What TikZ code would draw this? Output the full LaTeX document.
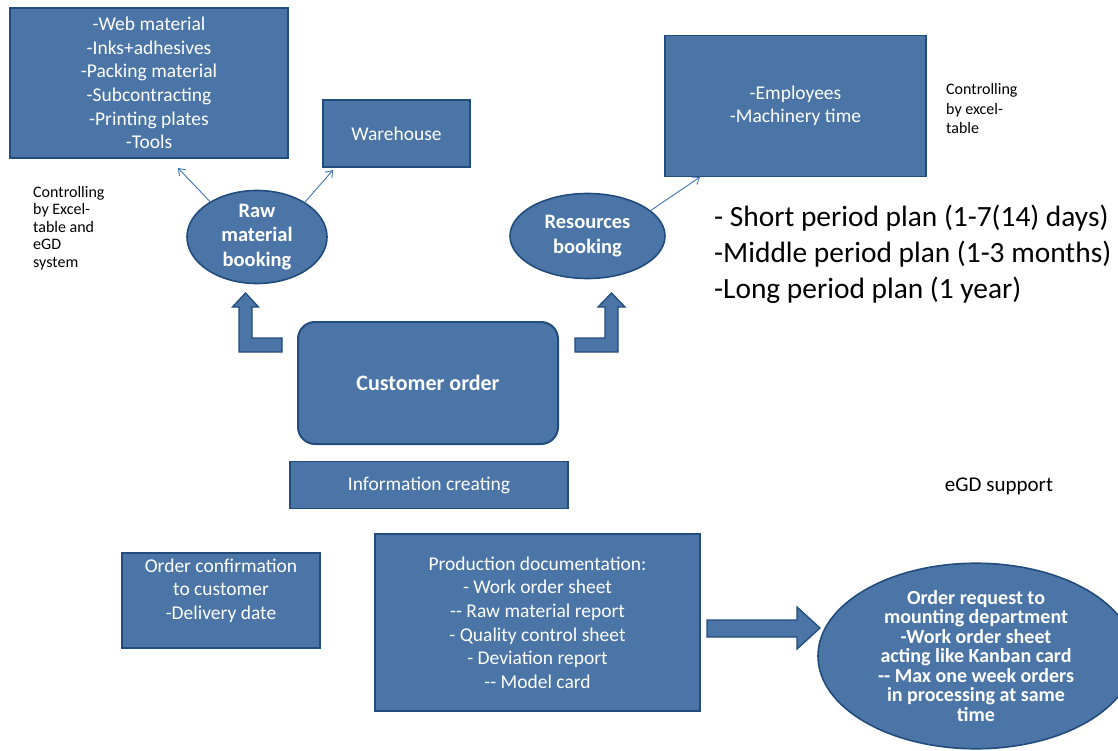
\documentclass[tikz,border=0pt]{standalone}
\usepackage{fontspec}
\setmainfont{Carlito}
\usetikzlibrary{shapes.geometric,arrows.meta}

\definecolor{boxfill}{RGB}{74,117,166}
\definecolor{boxedge}{RGB}{34,76,124}
\definecolor{linkblue}{RGB}{66,116,178}

% two plain hyphens, kept apart from the en-dash ligature
\newcommand{\twohyph}{-\kern0pt-}

\tikzset{
  panel/.style={draw=boxedge, line width=1.6pt, fill=boxfill, text=white,
                align=center, inner sep=0pt},
  bubble/.style={panel, ellipse},
  plainfont/.style={font=\fontsize{19.5}{23.6}\selectfont},
  boldfont/.style={font=\bfseries\fontsize{20.5}{24.5}\selectfont},
  note/.style={text=black, align=left, inner sep=0pt,
               font=\fontsize{16}{17.6}\selectfont},
  link/.style={draw=linkblue, line width=0.9pt,
               -{Straight Barb[length=6pt,width=9pt]}},
  blockarrow/.style={fill=boxfill, draw=boxedge, line width=1.3pt,
                     line join=miter}
}

\begin{document}
\begin{tikzpicture}[x=1pt, y=-1pt]
\useasboundingbox (0,0) rectangle (1118,751);
\clip (0,0) rectangle (1118,751);

% ---- material side -------------------------------------------------
\node[panel, plainfont, minimum width=278, minimum height=150] (mat)
  at (149,83) {-Web material\\-Inks+adhesives\\-Packing material\\
               -Subcontracting\\-Printing plates\\-Tools};
\node[panel, plainfont, minimum width=147, minimum height=67] (wh)
  at (396.5,133.5) {Warehouse};
\node[bubble, boldfont, minimum width=140, minimum height=84] (raw)
  at (257,237) {Raw\\material\\booking};
\node[note, anchor=west] (ctl1) at (33,228)
  {Controlling\\by Excel-\\table and\\eGD\\system};

\coordinate (matend) at (178,168);
\coordinate (whend) at (333,170);
\draw[link] (raw.143) -- (matend);
\draw[link] (raw.36) -- (whend);

% ---- resources side ------------------------------------------------
\node[panel, plainfont, minimum width=261, minimum height=141] (res)
  at (795.5,106) {-Employees\\-Machinery time};
\node[note, anchor=west, font=\fontsize{16}{19.5}\selectfont] (ctl2)
  at (946,109) {Controlling\\by excel-\\table};
\node[bubble, boldfont, minimum width=155, minimum height=85] (rb)
  at (587.5,236) {Resources\\booking};
\coordinate (resend) at (700,177);
\draw[link] (rb.22) -- (resend);

\node[anchor=west, align=left, inner sep=0pt,
      font=\fontsize{29.4}{36}\selectfont] (plans) at (714,254)
  {- Short period plan (1-7(14) days)\\
   -Middle period plan (1-3 months)\\
   -Long period plan (1 year)};

% ---- customer order and bent arrows --------------------------------
\node[panel, rounded corners=17pt, line width=2pt,
      font=\bfseries\fontsize{22}{26}\selectfont,
      minimum width=260, minimum height=122] (co) at (428,383)
  {Customer order};

\draw[blockarrow] (282,338) -- (252,338) -- (252,307) -- (258.5,307)
  -- (245.5,293) -- (232.5,307) -- (239,307) -- (239,352) -- (282,352)
  -- cycle;
\draw[blockarrow] (575,338) -- (605,338) -- (605,307) -- (598,307)
  -- (611.5,293) -- (625,307) -- (618,307) -- (618,352) -- (575,352)
  -- cycle;

\node[panel, plainfont, minimum width=278, minimum height=47] (info)
  at (429,485) {Information creating};
\node[anchor=center, inner sep=0pt, font=\fontsize{21}{25}\selectfont]
  (egd) at (999,486) {eGD support};

% ---- documents ----------------------------------------------------
\node[panel, minimum width=198, minimum height=95,
      label={[text=white, align=center, plainfont, inner sep=0pt,
              yshift=10pt]center:Order confirmation\\to customer\\-Delivery date}]
  (conf) at (221,600.5) {};
\node[panel, plainfont, minimum width=325, minimum height=177] (prod)
  at (537.5,622.5) {Production documentation:\\- Work order sheet\\
    \twohyph{} Raw material report\\- Quality control sheet\\- Deviation report\\
    \twohyph{} Model card};

\node[bubble, font=\bfseries\fontsize{20}{19.5}\selectfont,
      minimum width=316, minimum height=180] (req) at (976,656)
  {Order request to\\mounting department\\-Work order sheet\\
   acting like Kanban card\\\twohyph{} Max one week orders\\in processing at same\\time};

\draw[blockarrow] (707,620) -- (797,620) -- (797,607) -- (820,628)
  -- (797,649) -- (797,637) -- (707,637) -- cycle;
\end{tikzpicture}
\end{document}
